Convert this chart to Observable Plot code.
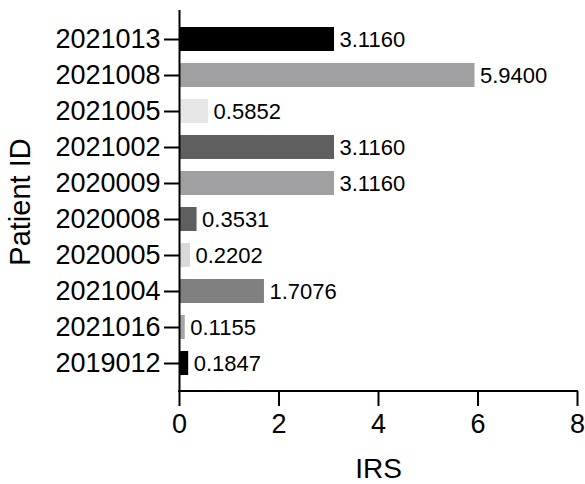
<!DOCTYPE html>
<html>
<head>
<meta charset="utf-8">
<script src="https://cdn.jsdelivr.net/npm/d3@7"></script>
<script src="https://cdn.jsdelivr.net/npm/@observablehq/plot@0.6"></script>
<style>
  html, body { margin: 0; padding: 0; background: #fff; }
  #chart svg { display: block; }
</style>
</head>
<body>
<div id="chart"></div>
<script>
const patientIds = ["2021013", "2021008", "2021005", "2021002", "2020009", "2020008", "2020005", "2021004", "2021016", "2019012"];
const irsValues = [3.1160, 5.9400, 0.5852, 3.1160, 3.1160, 0.3531, 0.2202, 1.7076, 0.1155, 0.1847];
const barColors = ["#000000", "#a0a0a3", "#e6e6e6", "#5f5f5f", "#a0a0a3", "#5f5f5f", "#d9d9d9", "#808080", "#a6a6a6", "#000000"];
const xTicks = [0, 2, 4, 6, 8];
const xLabel = "IRS";
const yLabel = "Patient ID";

const data = patientIds.map((id, i) => ({id, value: irsValues[i], color: barColors[i]}));

const font = "Liberation Sans, Arial, Helvetica, sans-serif";

const xAxisLine = (index, scales, values, dims) => {
  const g = d3.create("svg:g");
  const x0 = scales.x(xTicks[0]);
  const x1 = scales.x(xTicks[xTicks.length - 1]);
  const yb = dims.height - dims.marginBottom;
  g.append("line")
    .attr("x1", x0 - 1).attr("x2", x1 + 1)
    .attr("y1", yb).attr("y2", yb)
    .attr("stroke", "#000").attr("stroke-width", 2);
  return g.node();
};

const chart = Plot.plot({
  width: 585,
  height: 484,
  marginLeft: 179,
  marginRight: 8,
  marginTop: 12,
  marginBottom: 93,
  style: {fontFamily: font, background: "#fff", color: "#000"},
  x: {domain: [0, 8]},
  y: {domain: patientIds, paddingInner: 0.33, paddingOuter: 0.33},
  marks: [
    Plot.barX(data, {y: "id", x: "value", fill: "color"}),
    Plot.text(data, {
      y: "id", x: "value", text: d => d3.format(".4f")(d.value),
      textAnchor: "start", dx: 5, fontSize: 22, fill: "#000"
    }),
    Plot.ruleX([0], {stroke: "#000", strokeWidth: 2, insetTop: -2}),
    xAxisLine,
    Plot.axisX({
      ticks: xTicks, tickFormat: d => String(d), tickSize: 15, tickPadding: 7,
      fontSize: 27, stroke: "#000", strokeWidth: 2, label: null
    }),
    Plot.axisX({
      ticks: xTicks, tickFormat: () => "", tickSize: 0, fontSize: 28,
      label: xLabel, labelAnchor: "center", labelArrow: "none", labelOffset: 86
    }),
    Plot.axisY({
      tickSize: 15, tickPadding: 4, fontSize: 27, stroke: "#000", strokeWidth: 2, label: null
    }),
    Plot.axisY({
      tickSize: 0, tickFormat: () => "", fontSize: 29,
      label: yLabel, labelAnchor: "center", labelArrow: "none", labelOffset: 170
    })
  ]
});

document.getElementById("chart").appendChild(chart);
</script>
</body>
</html>
